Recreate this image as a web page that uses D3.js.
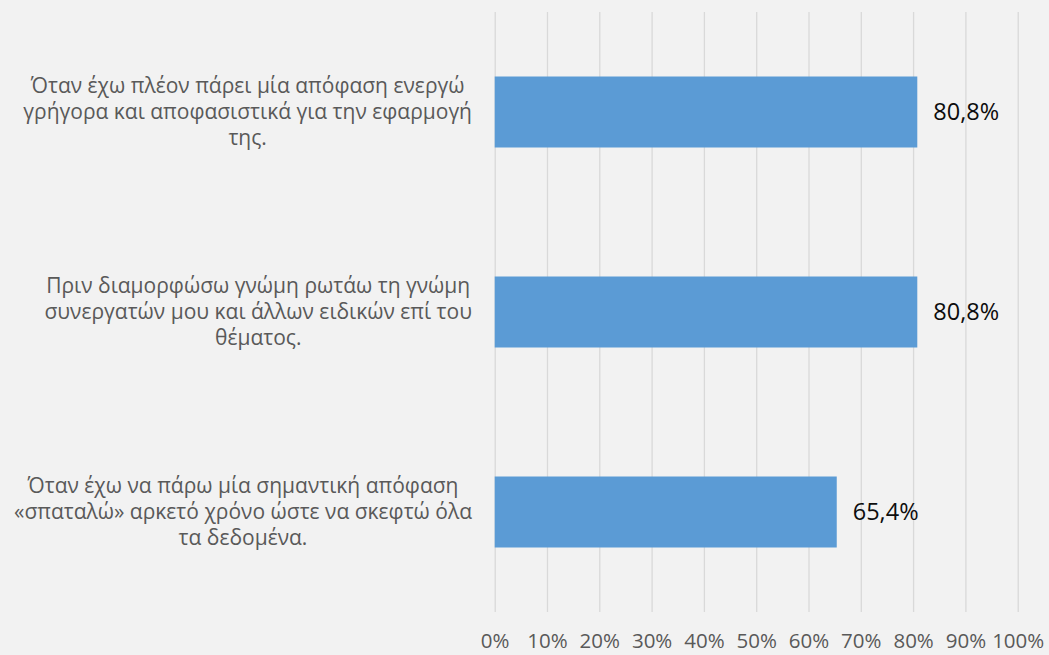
<!DOCTYPE html>
<html>
<head>
<meta charset="utf-8">
<script src="https://cdn.jsdelivr.net/npm/d3@7"></script>
<style>
  body { margin: 0; background: #f2f2f2; }
  svg { display: block; font-family: 'Open Sans', sans-serif; }
</style>
</head>
<body>
<div id="main"></div>
<script>
// δεδομένα του γραφήματος
const categories = [
  ['Όταν έχω πλέον πάρει μία απόφαση ενεργώ', 'γρήγορα και αποφασιστικά για την εφαρμογή', 'της.'],
  ['Πριν διαμορφώσω γνώμη ρωτάω τη γνώμη', 'συνεργατών μου και άλλων ειδικών επί του', 'θέματος.'],
  ['Όταν έχω να πάρω μία σημαντική απόφαση', '«σπαταλώ» αρκετό χρόνο ώστε να σκεφτώ όλα', 'τα δεδομένα.']
];
const values = [80.8, 80.8, 65.4];
const valueLabels = ['80,8%', '80,8%', '65,4%'];
const xTicks = [0, 10, 20, 30, 40, 50, 60, 70, 80, 90, 100];

const width = 1049, height = 655;
const mLeft = 494.7, mRight = 1017.7, mTop = 12, mBottom = 612;

const svg = d3.select('#main')
  .append('svg')
  .attr('width', width)
  .attr('height', height);

svg.append('rect')
  .attr('width', width)
  .attr('height', height)
  .attr('fill', '#f2f2f2');

const xScale = d3.scaleLinear().domain([0, 100]).range([mLeft, mRight]);
const yScale = d3.scaleBand()
  .domain(d3.range(categories.length))
  .range([mTop, mBottom])
  .paddingInner(0.645)
  .paddingOuter(0.3225);

// γραμμές πλέγματος + ετικέτες άξονα x
const xAxis = d3.axisBottom(xScale)
  .tickValues(xTicks)
  .tickSize(-(mBottom - mTop))
  .tickFormat(d => d + '%');

const gx = svg.append('g')
  .attr('transform', `translate(0,${mBottom})`)
  .call(xAxis);
gx.select('.domain').remove();
gx.selectAll('line').attr('stroke', '#d9d9d9').attr('stroke-width', 1.3);
gx.selectAll('text')
  .attr('y', 21)
  .attr('dy', '0.71em')
  .attr('fill', '#595959')
  .style('font-size', '20.5px')
  .style('font-family', "'Open Sans', sans-serif");

// μπάρες
svg.append('g')
  .selectAll('rect')
  .data(values)
  .enter()
  .append('rect')
  .attr('x', xScale(0))
  .attr('y', (d, i) => yScale(i))
  .attr('width', d => xScale(d) - xScale(0))
  .attr('height', yScale.bandwidth())
  .attr('fill', '#5b9bd5');

// ετικέτες τιμών
svg.append('g')
  .selectAll('text')
  .data(values)
  .enter()
  .append('text')
  .attr('x', d => xScale(d) + 16)
  .attr('y', (d, i) => yScale(i) + yScale.bandwidth() / 2)
  .attr('dy', '0.35em')
  .attr('fill', '#0d0d0d')
  .style('font-size', '23.5px')
  .text((d, i) => valueLabels[i]);

// ετικέτες κατηγοριών (κεντραρισμένες, δεξιά στοιχισμένο μπλοκ)
const labelRight = 472, lineHeight = 26;
categories.forEach((lines, i) => {
  const g = svg.append('g');
  const cy = yScale(i) + yScale.bandwidth() / 2;
  const texts = g.selectAll('text')
    .data(lines)
    .enter()
    .append('text')
    .attr('y', (d, j) => cy + (j - (lines.length - 1) / 2) * lineHeight)
    .attr('dy', '0.35em')
    .attr('text-anchor', 'middle')
    .attr('fill', '#595959')
    .style('font-size', '21px')
    .text(d => d);
  let maxW = 0;
  texts.each(function() { maxW = Math.max(maxW, this.getComputedTextLength()); });
  texts.attr('x', labelRight - maxW / 2);
});
</script>
</body>
</html>
